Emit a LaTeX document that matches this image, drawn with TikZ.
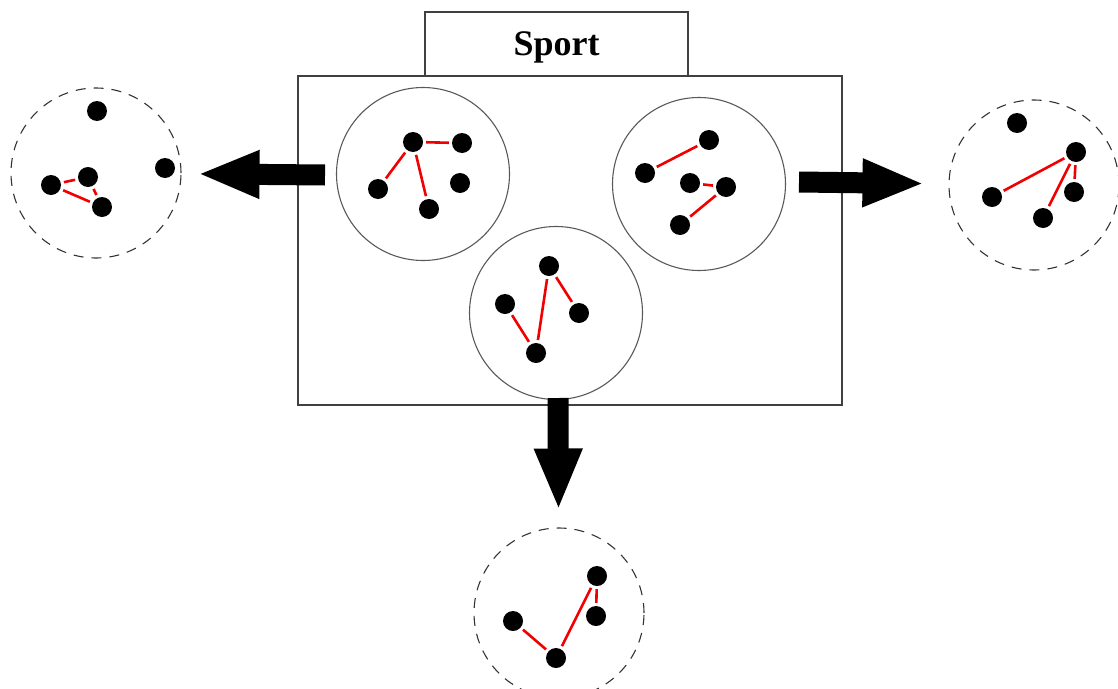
\documentclass[tikz,border=0pt]{standalone}
\usepackage{fontspec}
\setmainfont{Liberation Serif}
\usepackage{tikz}
\usetikzlibrary{arrows.meta}
\tikzset{dot/.style={circle,fill=black,inner sep=0pt,minimum size=20pt},
  link/.style={red!95!black,line width=2.6pt,shorten <=3pt,shorten >=3pt},
  group/.style={draw=black!65,circle,line width=1.1pt,inner sep=0pt,minimum size=173pt},
  cluster/.style={draw=black!80,circle,line width=1.1pt,dash pattern=on 10pt off 8pt,inner sep=0pt,minimum size=170pt},
  frame/.style={draw=black!75,line width=1.2pt,inner sep=0pt},
  bigarrow/.style={line width=21pt,-{Triangle[length=62pt,width=44pt]}}}

\begin{document}
\begin{tikzpicture}[x=1pt,y=-1pt]
\useasboundingbox (0,0) rectangle (1118,688);
% frame and title
\node[frame,minimum width=544pt,minimum height=329pt] (sport) at (570,240.5) {};
\node[frame,minimum width=263pt,minimum height=64pt] (title) at (556.5,44) {};
\node[font=\bfseries\fontsize{36}{40}\selectfont] (name) at (556.5,47) {Sport};
% groups inside the frame
\node[group] (ga) at (423,174) {};
\node[group] (gb) at (699,184) {};
\node[group] (gc) at (556,313) {};
\node[dot] (a1) at (413,142) {};
\node[dot] (a2) at (462,143) {};
\node[dot] (a3) at (378,189) {};
\node[dot] (a4) at (460,183) {};
\node[dot] (a5) at (429,209) {};
\draw[link] (a1) -- (a2);
\draw[link] (a1) -- (a3);
\draw[link] (a1) -- (a5);
\node[dot] (b1) at (709,140) {};
\node[dot] (b2) at (645,173) {};
\node[dot] (b3) at (690,183) {};
\node[dot] (b4) at (726,187) {};
\node[dot] (b5) at (680,225) {};
\draw[link] (b2) -- (b1);
\draw[link] (b3) -- (b4);
\draw[link] (b4) -- (b5);
\node[dot] (c1) at (549,266) {};
\node[dot] (c2) at (505,304) {};
\node[dot] (c3) at (579,313) {};
\node[dot] (c4) at (536,353) {};
\draw[link] (c2) -- (c4);
\draw[link] (c4) -- (c1);
\draw[link] (c1) -- (c3);
% clusters outside
\node[cluster] (left) at (96,173) {};
\node[cluster] (right) at (1034,185) {};
\node[cluster] (down) at (559,613) {};
\node[dot] (l1) at (97,111) {};
\node[dot] (l2) at (165,168) {};
\node[dot] (l3) at (51,185) {};
\node[dot] (l4) at (88,177) {};
\node[dot] (l5) at (102,207) {};
\draw[link] (l3) -- (l4);
\draw[link] (l3) -- (l5);
\draw[link] (l4) -- (l5);
\node[dot] (r1) at (1017,123) {};
\node[dot] (r2) at (1076,152) {};
\node[dot] (r3) at (992,197) {};
\node[dot] (r4) at (1074,192) {};
\node[dot] (r5) at (1043,218) {};
\draw[link] (r2) -- (r3);
\draw[link] (r2) -- (r5);
\draw[link] (r2) -- (r4);
\node[dot] (d1) at (597,576) {};
\node[dot] (d2) at (513,621) {};
\node[dot] (d3) at (596,616) {};
\node[dot] (d4) at (556,658) {};
\draw[link] (d2) -- (d4);
\draw[link] (d4) -- (d1);
\draw[link] (d1) -- (d3);
% arrows
\coordinate (lt) at (325,175);
\coordinate (rt) at (799,182);
\coordinate (dt) at (558,398);
\draw[bigarrow,shorten >=16pt] (lt) -- (left);
\draw[bigarrow,shorten >=24pt] (rt) -- (right);
\draw[bigarrow,shorten >=17pt] (dt) -- (down);
\end{tikzpicture}
\end{document}
